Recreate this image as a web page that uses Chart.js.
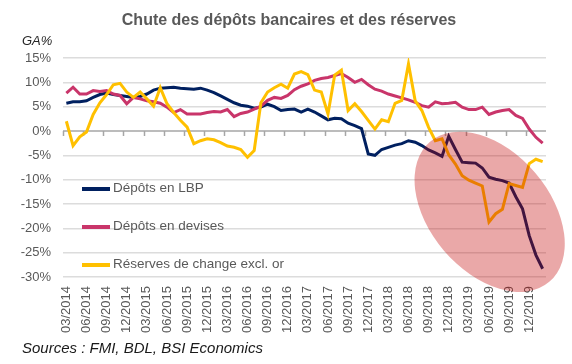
<!DOCTYPE html>
<html lang="fr">
<head>
<meta charset="utf-8">
<script src="https://cdn.jsdelivr.net/npm/chart.js@4.4.1/dist/chart.umd.min.js"></script>
<style>
    body { margin: 0; background: #ffffff; }
    #cadre { position: relative; width: 572px; height: 364px; font-family: "Liberation Sans", Arial, sans-serif; }
    #myChart { position: absolute; left: 0; top: 0; }
    .titre { position: absolute; left: 0; width: 578px; top: 11px; text-align: center; font-weight: bold; font-size: 16px; color: #595959; }
    .unite { position: absolute; left: 22px; top: 33px; font-style: italic; font-size: 13px; color: #262626; }
    .source { position: absolute; left: 22px; top: 339px; font-style: italic; font-size: 15px; color: #1a1a1a; }
    .legende { position: absolute; left: 82px; font-size: 13.5px; color: #595959; }
    .legende span.trait { position: absolute; left: 0; top: 7px; width: 28px; height: 4px; }
    .legende span.texte { position: absolute; left: 31px; top: 0; white-space: nowrap; }
</style>
</head>
<body>
<div id="cadre">
    <canvas id="myChart" width="572" height="364"></canvas>
    <div class="titre">Chute des dépôts bancaires et des réserves</div>
    <div class="unite">GA%</div>
    <div class="source">Sources : FMI, BDL, BSI Economics</div>
    <div id="legendes"></div>
</div>
<script>

const mois = [
    '03/2014', '04/2014', '05/2014', '06/2014', '07/2014', '08/2014', '09/2014', '10/2014', '11/2014', '12/2014',
    '01/2015', '02/2015', '03/2015', '04/2015', '05/2015', '06/2015', '07/2015', '08/2015', '09/2015', '10/2015', '11/2015', '12/2015',
    '01/2016', '02/2016', '03/2016', '04/2016', '05/2016', '06/2016', '07/2016', '08/2016', '09/2016', '10/2016', '11/2016', '12/2016',
    '01/2017', '02/2017', '03/2017', '04/2017', '05/2017', '06/2017', '07/2017', '08/2017', '09/2017', '10/2017', '11/2017', '12/2017',
    '01/2018', '02/2018', '03/2018', '04/2018', '05/2018', '06/2018', '07/2018', '08/2018', '09/2018', '10/2018', '11/2018', '12/2018',
    '01/2019', '02/2019', '03/2019', '04/2019', '05/2019', '06/2019', '07/2019', '08/2019', '09/2019', '10/2019', '11/2019', '12/2019',
    '01/2020', '02/2020'
];

// mois affichés sur l'axe (trimestres)
const moisAffiches = ['03', '06', '09', '12'];

const depotsLBP = [
    5.7, 6.0, 6.0, 6.2, 6.9, 7.5, 7.8, 7.5, 7.3, 7.1,
    6.9, 7.1, 7.6, 8.4, 8.8, 8.9, 9.0, 8.8, 8.7, 8.6, 8.8, 8.4,
    7.9, 7.2, 6.5, 5.8, 5.3, 5.1, 4.7, 4.9, 5.5, 5.0, 4.2, 4.4,
    4.5, 3.9, 4.5, 3.9, 3.1, 2.3, 2.6, 2.5, 1.6, 1.1, 0.5, -4.7,
    -5.0, -3.8, -3.35, -2.9, -2.6, -2.0, -2.3, -3.0, -3.9, -4.5, -5.2, -1.1,
    -3.8, -6.4, -6.5, -6.6, -7.6, -9.5, -9.9, -10.2, -10.7, -13.5, -16.0, -21.5,
    -25.5, -28.3
];

const depotsDevises = [
    7.8, 9.0, 7.6, 7.6, 8.3, 8.1, 8.3, 7.6, 7.3, 5.6,
    6.9, 6.6, 6.2, 6.0, 5.7, 4.9, 3.8, 4.4, 3.5, 3.5, 3.5, 3.8,
    4.0, 3.9, 4.4, 2.95, 3.6, 3.9, 4.5, 5.1, 6.3, 6.9, 6.7, 7.3,
    8.5, 9.2, 9.7, 10.4, 10.8, 11.0, 11.4, 11.8, 11.0, 10.0, 10.6, 9.5,
    8.6, 8.2, 7.6, 7.2, 6.8, 6.4, 5.9, 5.2, 4.9, 6.0, 5.6, 5.7,
    5.9, 4.9, 4.4, 4.4, 4.9, 3.4, 3.9, 4.2, 4.4, 3.2, 2.6, 0.4,
    -1.3, -2.5
];

const reservesChange = [
    2.0, -3.0, -1.2, -0.2, 3.4, 5.8, 7.5, 9.5, 9.8, 8.0,
    6.9, 8.0, 6.6, 5.1, 8.9, 5.6, 3.8, 2.2, 0.8, -2.6, -2.0, -1.6,
    -1.8, -2.4, -3.1, -3.35, -3.8, -5.4, -4.0, 5.8, 8.0, 8.9, 9.6, 8.8,
    11.7, 12.2, 11.6, 8.4, 8.0, 3.5, 11.5, 12.5, 4.2, 5.6, 4.0, 2.2,
    0.4, 2.3, 1.9, 5.7, 6.3, 13.8, 6.2, 4.2, 0.75, -2.0, -1.6, -4.9,
    -6.8, -9.2, -10.1, -10.7, -11.3, -18.7, -17.0, -16.1, -10.8, -11.2, -11.6, -6.7,
    -5.8, -6.3
];

const series = [
    { label: 'Dépôts en LBP', couleur: '#002060', valeurs: depotsLBP, ordre: 2 },
    { label: 'Dépôts en devises', couleur: '#c9356a', valeurs: depotsDevises, ordre: 1 },
    { label: 'Réserves de change excl. or', couleur: '#ffc000', valeurs: reservesChange, ordre: 0 }
];

// zone mise en évidence (ellipse rouge), centrée en coordonnées des axes
const zone = { centreMois: 63.1, centreValeur: -16.6 };

const legendesY = [189, 227, 265];

const legendes = document.getElementById('legendes');
series.forEach(function (s, i) {
    const ligne = document.createElement('div');
    ligne.className = 'legende';
    ligne.style.top = (legendesY[i] - 9) + 'px';
    ligne.innerHTML = '<span class="trait" style="background:' + s.couleur + '"></span><span class="texte">' + s.label + '</span>';
    legendes.appendChild(ligne);
});

const axeZero = {
    id: 'axeZero',
    beforeDatasetsDraw(chart) {
        const { ctx, chartArea, scales: { x, y } } = chart;
        const y0 = y.getPixelForValue(0);
        const demi = (x.getPixelForValue(1) - x.getPixelForValue(0)) / 2;
        ctx.save();
        ctx.strokeStyle = '#a6a6a6';
        ctx.lineWidth = 1.5;
        ctx.beginPath();
        ctx.moveTo(chartArea.left, y0);
        ctx.lineTo(chartArea.right, y0);
        mois.forEach(function (m, i) {
            if (moisAffiches.includes(m.slice(0, 2))) {
                const px = Math.round(x.getPixelForValue(i) - demi) + 0.5;
                ctx.moveTo(px, y0);
                ctx.lineTo(px, y0 + 5);
            }
        });
        ctx.stroke();
        ctx.restore();
    }
};

const ellipse = {
    id: 'ellipse',
    afterDatasetsDraw(chart) {
        const { ctx, scales: { x, y } } = chart;
        const cx = x.getPixelForValue(zone.centreMois);
        const cy = y.getPixelForValue(zone.centreValeur);
        ctx.save();
        ctx.fillStyle = 'rgba(192, 0, 0, 0.34)';
        ctx.beginPath();
        ctx.ellipse(cx, cy, 92, 60, 49.6 * Math.PI / 180, 0, 2 * Math.PI);
        ctx.fill();
        ctx.restore();
    }
};

const data = {
    labels: mois,
    datasets: series.map(function (s) {
        return {
            label: s.label,
            data: s.valeurs,
            borderColor: s.couleur,
            backgroundColor: s.couleur,
            borderWidth: 3,
            pointRadius: 0,
            tension: 0,
            order: s.ordre
        };
    })
};

const config = {
    type: 'line',
    data: data,
    options: {
        responsive: false,
        animation: false,
        devicePixelRatio: 1,
        layout: { padding: { left: 0, right: 26, top: 58, bottom: 0 } },
        plugins: {
            legend: { display: false },
            tooltip: { enabled: false },
            title: { display: false }
        },
        scales: {
            x: {
                offset: true,
                grid: { display: false, drawTicks: false },
                border: { display: false },
                afterFit: function (scale) { scale.height = 87; },
                ticks: {
                    autoSkip: false,
                    minRotation: 90,
                    maxRotation: 90,
                    padding: 9,
                    color: '#595959',
                    font: { family: '"Liberation Sans", Arial, sans-serif', size: 13 },
                    callback: function (val, i) {
                        const m = mois[i];
                        return moisAffiches.includes(m.slice(0, 2)) ? m : '';
                    }
                }
            },
            y: {
                min: -30,
                max: 15,
                border: { display: false },
                afterFit: function (scale) { scale.width = 63; },
                grid: {
                    drawTicks: false,
                    lineWidth: 1.5,
                    color: function (c) { return c.tick && c.tick.value === 0 ? 'rgba(0,0,0,0)' : '#dcdcdc'; }
                },
                ticks: {
                    stepSize: 5,
                    padding: 12,
                    color: '#595959',
                    font: { family: '"Liberation Sans", Arial, sans-serif', size: 13 },
                    callback: function (v) { return v + '%'; }
                }
            }
        }
    },
    plugins: [axeZero, ellipse]
};

const myChart = new Chart(
    document.getElementById('myChart'),
    config
);

</script>
</body>
</html>
